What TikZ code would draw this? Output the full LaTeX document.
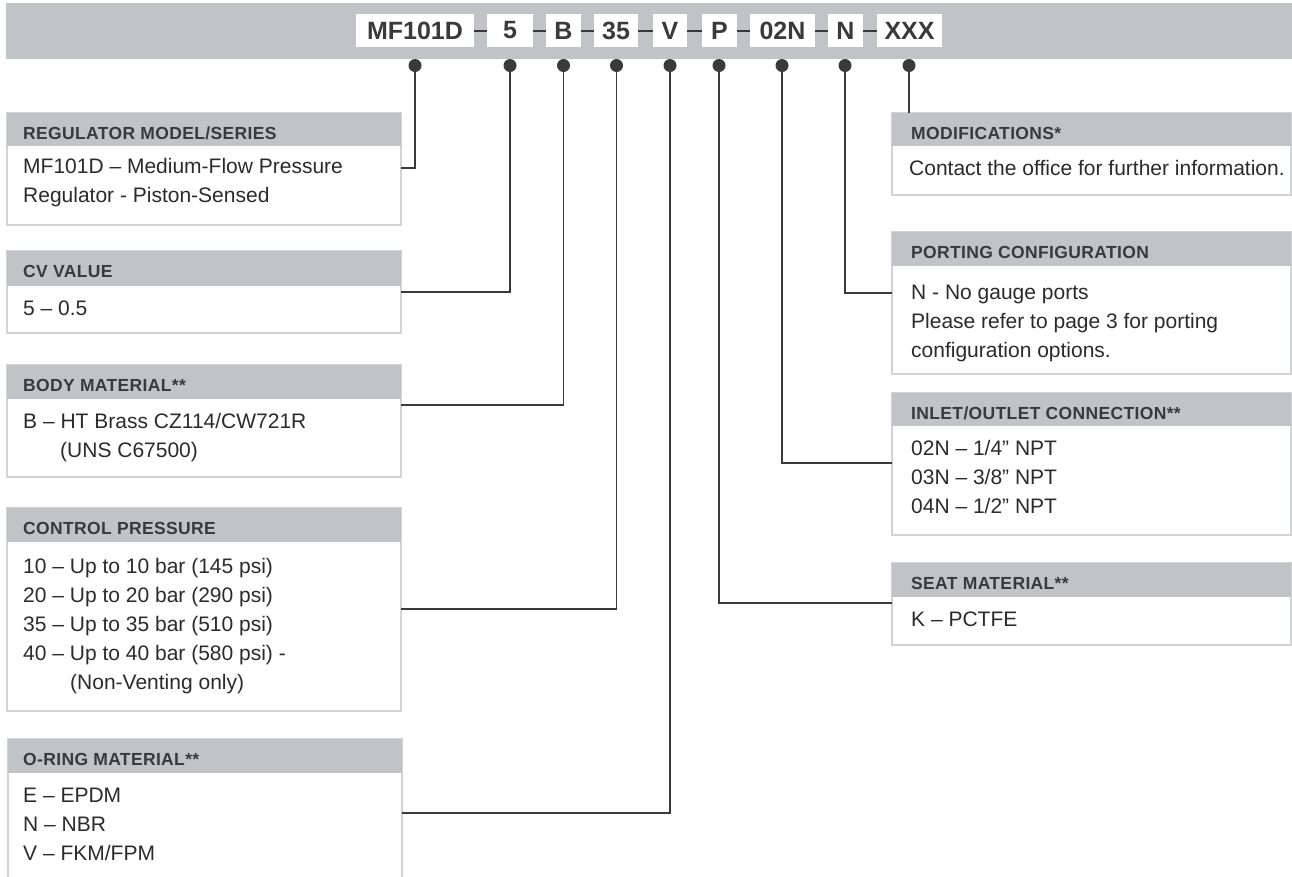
\documentclass[tikz,border=0pt]{standalone}
\usepackage{fontspec}
\setmainfont{Liberation Sans}
\newfontface\headface[LetterSpace=2]{Liberation Sans Bold}
\definecolor{bandgray}{HTML}{C2C3C7}
\definecolor{framegray}{HTML}{D2D3D5}
\definecolor{inkdark}{HTML}{3A3A3D}
\definecolor{bodyink}{HTML}{2B2B2B}
\tikzset{
    codebox/.style={fill=white, minimum height=33pt, inner sep=0pt, text=inkdark, font=\fontsize{25}{30}\selectfont\bfseries},
    codedash/.style={draw=inkdark, line width=2pt},
    codedot/.style={circle, fill=inkdark, minimum size=13pt, inner sep=0pt},
    leader/.style={draw=inkdark, line width=1.3pt},
    boxframe/.style={draw=framegray, line width=1.5pt, fill=white},
    headbar/.style={fill=bandgray},
    headtext/.style={anchor=base west, inner sep=0pt, text=inkdark, font=\headface\fontsize{17.5}{20}\selectfont},
    bodytext/.style={anchor=base west, inner sep=0pt, text=bodyink, font=\fontsize{21}{25}\selectfont}
}
\begin{document}
\begin{tikzpicture}[x=1pt, y=-1pt]
    \useasboundingbox (0,0) rectangle (1292,876);
    \fill[bandgray] (6,3) rectangle (1292,59);
        \node[codebox, minimum width=118pt] (mf) at (415,30.5) {MF101D};
        \node[codebox, minimum width=46pt] (cv) at (510,30.5) {5};
        \node[codebox, minimum width=35pt] (bm) at (563.5,30.5) {B};
        \node[codebox, minimum width=44pt] (cp) at (616,30.5) {35};
        \node[codebox, minimum width=34pt] (om) at (670,30.5) {V};
        \node[codebox, minimum width=35pt] (sm) at (719.5,30.5) {P};
        \node[codebox, minimum width=65pt] (io) at (782.5,30.5) {02N};
        \node[codebox, minimum width=35pt] (pc) at (845.5,30.5) {N};
        \node[codebox, minimum width=65pt] (md) at (909.5,30.5) {XXX};
        \draw[codedash] (mf) -- (cv);
        \draw[codedash] (cv) -- (bm);
        \draw[codedash] (bm) -- (cp);
        \draw[codedash] (cp) -- (om);
        \draw[codedash] (om) -- (sm);
        \draw[codedash] (sm) -- (io);
        \draw[codedash] (io) -- (pc);
        \draw[codedash] (pc) -- (md);

    \draw[boxframe] (7,113) rectangle (401,225);
        \fill[headbar] (7,113) rectangle (401,146);
        \node[headtext] (hmf) at (23,139) {REGULATOR MODEL/SERIES};
        \node[bodytext] (tmf1) at (23,173) {MF101D – Medium-Flow Pressure};
        \node[bodytext] (tmf2) at (23,202) {Regulator - Piston-Sensed};
    \draw[boxframe] (7,251) rectangle (401,333);
        \fill[headbar] (7,251) rectangle (401,286);
        \node[headtext] (hcv) at (23,277) {CV VALUE};
        \node[bodytext] (tcv1) at (23,315) {5 – 0.5};
    \draw[boxframe] (7,365) rectangle (401,477);
        \fill[headbar] (7,365) rectangle (401,399);
        \node[headtext] (hbm) at (23,391) {BODY MATERIAL**};
        \node[bodytext] (tbm1) at (23,428) {B – HT Brass CZ114/CW721R};
        \node[bodytext] (tbm2) at (60,457) {(UNS C67500)};
    \draw[boxframe] (7,508) rectangle (401,711);
        \fill[headbar] (7,508) rectangle (401,542);
        \node[headtext] (hcp) at (23,534) {CONTROL PRESSURE};
        \node[bodytext] (tcp1) at (23,573) {10 – Up to 10 bar (145 psi)};
        \node[bodytext] (tcp2) at (23,602) {20 – Up to 20 bar (290 psi)};
        \node[bodytext] (tcp3) at (23,631) {35 – Up to 35 bar (510 psi)};
        \node[bodytext] (tcp4) at (23,660) {40 – Up to 40 bar (580 psi) -};
        \node[bodytext] (tcp5) at (70,689) {(Non-Venting only)};
    \draw[boxframe] (8,739) rectangle (402,900);
        \fill[headbar] (8,739) rectangle (402,773);
        \node[headtext] (hom) at (23,765) {O-RING MATERIAL**};
        \node[bodytext] (tom1) at (23,802) {E – EPDM};
        \node[bodytext] (tom2) at (23,831) {N – NBR};
        \node[bodytext] (tom3) at (23,860) {V – FKM/FPM};

    \draw[boxframe] (892,113) rectangle (1291,195);
        \fill[headbar] (892,113) rectangle (1291,146);
        \node[headtext] (hmd) at (911,139) {MODIFICATIONS*};
        \node[bodytext] (tmd1) at (909,175) {Contact the office for further information.};
    \draw[boxframe] (892,232) rectangle (1291,374);
        \fill[headbar] (892,232) rectangle (1291,266);
        \node[headtext] (hpc) at (911,258) {PORTING CONFIGURATION};
        \node[bodytext] (tpc1) at (911,299) {N - No gauge ports};
        \node[bodytext] (tpc2) at (911,328) {Please refer to page 3 for porting};
        \node[bodytext] (tpc3) at (911,357) {configuration options.};
    \draw[boxframe] (892,393) rectangle (1291,535);
        \fill[headbar] (892,393) rectangle (1291,426);
        \node[headtext] (hio) at (911,419) {INLET/OUTLET CONNECTION**};
        \node[bodytext] (tio1) at (911,455) {02N – 1/4” NPT};
        \node[bodytext] (tio2) at (911,484) {03N – 3/8” NPT};
        \node[bodytext] (tio3) at (911,513) {04N – 1/2” NPT};
    \draw[boxframe] (892,563) rectangle (1291,645);
        \fill[headbar] (892,563) rectangle (1291,597);
        \node[headtext] (hsm) at (911,589) {SEAT MATERIAL**};
        \node[bodytext] (tsm1) at (911,626) {K – PCTFE};

    \node[codedot] (dmf) at (415,65.5) {};
    \node[codedot] (dcv) at (510,65.5) {};
    \node[codedot] (dbm) at (563.5,65.5) {};
    \node[codedot] (dcp) at (616.5,65.5) {};
    \node[codedot] (dom) at (670,65.5) {};
    \node[codedot] (dsm) at (719,65.5) {};
    \node[codedot] (dio) at (782,65.5) {};
    \node[codedot] (dpc) at (845,65.5) {};
    \node[codedot] (dmd) at (909,65.5) {};
        \coordinate (jmf) at (401,168);
        \coordinate (jcv) at (401,292);
        \coordinate (jbm) at (401,405);
        \coordinate (jcp) at (401,609);
        \coordinate (jom) at (402,813);
        \coordinate (jsm) at (892,603);
        \coordinate (jio) at (892,463);
        \coordinate (jpc) at (892,293);
        \coordinate (jmd) at (909,113);
        \draw[leader] (dmf.center) |- (jmf);
        \draw[leader] (dcv.center) |- (jcv);
        \draw[leader] (dbm.center) |- (jbm);
        \draw[leader] (dcp.center) |- (jcp);
        \draw[leader] (dom.center) |- (jom);
        \draw[leader] (dsm.center) |- (jsm);
        \draw[leader] (dio.center) |- (jio);
        \draw[leader] (dpc.center) |- (jpc);
        \draw[leader] (dmd.center) -- (jmd);
\end{tikzpicture}
\end{document}
